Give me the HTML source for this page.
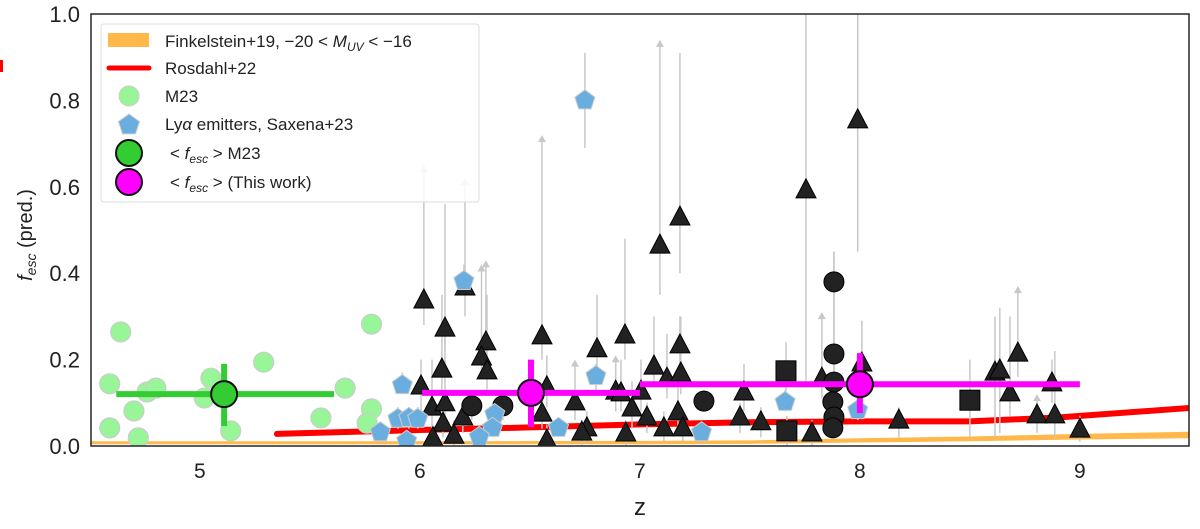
<!DOCTYPE html>
<html><head><meta charset="utf-8"><style>
body{margin:0;background:#fff;}
svg{display:block;font-family:"Liberation Sans","DejaVu Sans",sans-serif;}
</style></head><body>
<svg id="chart" width="1200" height="529">
<defs><clipPath id="clip"><rect x="91" y="14" width="1098" height="432"/></clipPath></defs>
<g id="plot" clip-path="url(#clip)"></g>
<rect x="91" y="14" width="1098" height="432" fill="none" stroke="#262626" stroke-width="1.5"/>
<g id="ticks"></g>
<text x="640" y="515" font-size="24" text-anchor="middle" fill="#222">z</text>
<text transform="translate(32,235) rotate(-90)" font-size="20" text-anchor="middle" fill="#222"><tspan font-style="italic">f</tspan><tspan font-style="italic" font-size="14" dy="4">esc</tspan><tspan dy="-4"> (pred.)</tspan></text>
<rect x="0" y="60" width="3" height="12" fill="#f00"/>
<g id="legend">
<rect x="101" y="24" width="378" height="178" rx="3" fill="#fff" fill-opacity="0.85" stroke="#ddd"/>
<g><rect x="108" y="33" width="41" height="14" fill="#ffb84a"/><text x="165" y="47" font-size="17" fill="#222">Finkelstein+19, −20 &lt; <tspan font-style="italic">M</tspan><tspan font-style="italic" font-size="12" dy="4">UV</tspan><tspan dy="-4"> &lt; −16</tspan></text></g>
<g><line x1="109" y1="68" x2="149" y2="68" stroke="#f00" stroke-width="5" stroke-linecap="round"/><text x="165" y="74" font-size="17" fill="#222">Rosdahl+22</text></g>
<g><circle cx="129" cy="96" r="10" fill="#98f598" stroke="#ccc"/><text x="165" y="102" font-size="17" fill="#222">M23</text></g>
<g><polygon id="legpent" fill="#6aaee0" stroke="#ccc"/><text x="165" y="130" font-size="17" fill="#222">Ly<tspan font-style="italic">α</tspan> emitters, Saxena+23</text></g>
<g><circle cx="129" cy="153" r="13" fill="#33cc33" stroke="#111" stroke-width="2"/><text x="170" y="159" font-size="17" fill="#222">&lt; <tspan font-style="italic">f</tspan><tspan font-style="italic" font-size="12" dy="4">esc</tspan><tspan dy="-4"> &gt;  M23</tspan></text></g>
<g><circle cx="129" cy="182" r="13" fill="#ff00ff" stroke="#111" stroke-width="2"/><text x="170" y="188" font-size="17" fill="#222">&lt; <tspan font-style="italic">f</tspan><tspan font-style="italic" font-size="12" dy="4">esc</tspan><tspan dy="-4"> &gt;  (This work)</tspan></text></g>
</g>
</svg>
<script>
const xTicks=[5,6,7,8,9];
const yTicks=[0.0,0.2,0.4,0.6,0.8,1.0];
const yTickLabels=["0.0","0.2","0.4","0.6","0.8","1.0"];
const finkZ=[4.4,5,6,7,7.5,8,8.5,9,9.5];
const finkLo=[0.004,0.004,0.004,0.004,0.005,0.008,0.011,0.015,0.018];
const finkHi=[0.011,0.011,0.011,0.012,0.013,0.018,0.022,0.028,0.033];
const rosZ=[5.35,6,6.5,7,7.5,8,8.5,8.9,9.5];
const rosF=[0.028,0.037,0.043,0.05,0.055,0.057,0.057,0.066,0.088];
const m23Z=[4.59,4.64,4.59,4.70,4.72,4.76,4.80,5.02,5.05,5.14,5.29,5.55,5.66,5.78,5.78,5.76];
const m23F=[0.144,0.264,0.042,0.081,0.019,0.125,0.134,0.111,0.157,0.035,0.194,0.065,0.134,0.282,0.086,0.053];
const laeZ=[5.92,5.90,5.95,5.99,5.82,5.94,6.20,6.34,6.33,6.27,6.63,6.80,7.28,7.66,7.99,6.75];
const laeF=[0.141,0.063,0.065,0.063,0.032,0.012,0.382,0.074,0.042,0.021,0.042,0.162,0.032,0.102,0.083,0.80];
const laeHi=[0.17,0.09,0.09,0.09,0.05,0.03,0.42,0.10,0.07,0.04,0.06,0.19,0.05,0.13,0.10,0.91];
const laeLo=[0.12,0.04,0.04,0.04,0.02,0.00,0.35,0.05,0.02,0.00,0.02,0.13,0.01,0.08,0.06,0.69];
const triZ=[6.018,6.114,6.10,6.005,6.055,6.114,6.105,6.059,6.195,6.155,6.205,6.30,6.28,6.305,6.555,6.577,6.555,6.577,6.705,6.759,6.736,6.805,6.932,6.89,6.914,6.964,7.005,7.032,6.936,7.064,7.123,7.186,7.182,7.182,7.091,7.173,7.109,7.195,7.473,7.455,7.55,7.755,7.99,7.827,7.782,8.009,8.177,8.614,8.636,8.682,8.718,8.805,8.886,8.873,9.0];
const triF=[0.338,0.273,0.178,0.139,0.090,0.100,0.053,0.019,0.067,0.025,0.368,0.241,0.206,0.174,0.255,0.137,0.076,0.014,0.102,0.042,0.032,0.225,0.257,0.127,0.123,0.088,0.127,0.067,0.030,0.185,0.157,0.169,0.234,0.530,0.465,0.079,0.042,0.042,0.125,0.067,0.056,0.593,0.755,0.157,0.030,0.192,0.060,0.171,0.176,0.123,0.215,0.072,0.072,0.146,0.039];
const triHi=[0.65,0.56,0.35,0.2,0.2,0.3,0.1,0.05,0.1,0.06,0.62,0.43,0.42,0.35,0.72,0.21,0.12,0.05,0.2,0.08,0.06,0.35,0.48,0.21,0.2,0.15,0.2,0.1,0.06,0.3,0.26,0.3,0.3,0.91,0.94,0.16,0.08,0.08,0.19,0.1,0.09,1.05,1.05,0.31,0.06,0.29,0.09,0.3,0.32,0.3,0.37,0.12,0.22,0.2,0.07];
const triLo=[0.28,0.22,0.12,0.08,0.04,0.05,0.02,0.0,0.03,0.0,0.30,0.19,0.16,0.13,0.20,0.09,0.04,0.0,0.06,0.01,0.0,0.17,0.2,0.08,0.08,0.04,0.08,0.03,0.0,0.14,0.11,0.12,0.18,0.40,0.35,0.04,0.01,0.01,0.08,0.03,0.02,0.15,0.45,0.11,0.0,0.14,0.02,0.02,0.03,0.07,0.16,0.03,0.02,0.1,0.01];
const triArrow=[1,0,0,0,0,0,0,0,0,0,1,1,1,0,1,0,0,0,1,0,0,0,0,1,0,0,0,0,0,0,0,0,0,0,1,0,0,0,0,0,0,0,0,1,0,0,0,0,0,0,1,1,0,0,0];
const cirZ=[6.236,6.377,7.291,7.882,7.882,7.882,7.877,7.882,7.877];
const cirF=[0.093,0.093,0.104,0.380,0.213,0.148,0.102,0.067,0.042];
const cirHi=[0.12,0.12,0.13,0.45,0.45,0.2,0.13,0.09,0.07];
const cirLo=[0.06,0.06,0.08,0.2,0.15,0.1,0.07,0.04,0.02];
const sqZ=[7.664,7.668,8.5];
const sqF=[0.174,0.035,0.106];
const sqHi=[0.24,0.07,0.2];
const sqLo=[0.12,0.0,0.02];
const meanM23Z=[5.11],meanM23F=[0.12],meanM23ZLo=[4.62],meanM23ZHi=[5.61],meanM23FLo=[0.046],meanM23FHi=[0.19];
const meanZ=[6.505,8.0],meanF=[0.123,0.143],meanZLo=[6.01,7.0],meanZHi=[7.0,9.0],meanFLo=[0.044,0.076],meanFHi=[0.2,0.215];

const X=z=>91+(z-4.505)*220;
const Y=f=>446-f*432;
const NS="http://www.w3.org/2000/svg";
const plot=document.getElementById('plot');
function mk(tag,attrs,parent){const e=document.createElementNS(NS,tag);for(const k in attrs)e.setAttribute(k,attrs[k]);(parent||plot).appendChild(e);return e;}
function pent(cx,cy,r){let p=[];for(let i=0;i<5;i++){const a=-Math.PI/2+i*2*Math.PI/5;p.push((cx+r*Math.cos(a)).toFixed(1)+","+(cy+r*Math.sin(a)).toFixed(1));}return p.join(" ");}
document.getElementById('legpent').setAttribute('points',pent(129,125,11));

const tickG=document.getElementById('ticks');
xTicks.forEach(t=>{const e=mk('text',{x:X(t),y:478,'font-size':21,'text-anchor':'middle',fill:'#222'},tickG);e.textContent=t;

});
yTicks.forEach((t,i)=>{const e=mk('text',{x:80,y:Y(t)+8,'font-size':22,'text-anchor':'end',fill:'#222'},tickG);e.textContent=yTickLabels[i];

});

const bandTop=finkZ.map((z,i)=>X(z)+","+Y(finkHi[i])).join(" ");
const bandBot=finkZ.slice().reverse().map((z,j)=>X(z)+","+Y(finkLo[finkZ.length-1-j])).join(" ");
const band=mk('polygon',{points:bandTop+" "+bandBot,fill:'#ffb84a'});


const rl=mk('polyline',{points:rosZ.map((z,i)=>X(z)+","+Y(rosF[i])).join(" "),fill:'none',stroke:'#f00','stroke-width':6,'stroke-linecap':'round'});



function errbar(z,lo,hi,arrow){
  const l=mk('line',{x1:X(z),x2:X(z),y1:Y(lo),y2:Y(hi)+(arrow?6:0),stroke:'#c8c8c8','stroke-width':1.5});
  
  
  if(arrow){const a=mk('polygon',{points:`${X(z)-4},${Y(hi)+7} ${X(z)+4},${Y(hi)+7} ${X(z)},${Y(hi)}`,fill:'#c8c8c8'});
  
  }
}
m23Z.forEach((z,i)=>{const c=mk('circle',{cx:X(z),cy:Y(m23F[i]),r:10,fill:'#98f598',stroke:'#ccc','stroke-width':1.2});

});
triZ.forEach((z,i)=>errbar(z,triLo[i],triHi[i],triArrow[i]));
cirZ.forEach((z,i)=>errbar(z,cirLo[i],cirHi[i],0));
sqZ.forEach((z,i)=>errbar(z,sqLo[i],sqHi[i],0));
laeZ.forEach((z,i)=>errbar(z,laeLo[i],laeHi[i],0));
triZ.forEach((z,i)=>{const x=X(z),y=Y(triF[i]);const t=mk('polygon',{points:`${x-10},${y+8} ${x+10},${y+8} ${x},${y-11}`,fill:'#222',stroke:'#000','stroke-width':1});

});
cirZ.forEach((z,i)=>{const c=mk('circle',{cx:X(z),cy:Y(cirF[i]),r:10,fill:'#222',stroke:'#000'});

});
sqZ.forEach((z,i)=>{const r=mk('rect',{x:X(z)-10,y:Y(sqF[i])-10,width:20,height:20,fill:'#222',stroke:'#000'});

});
laeZ.forEach((z,i)=>{const p=mk('polygon',{points:pent(X(z),Y(laeF[i]),10.5),fill:'#6aaee0',stroke:'#ccc','stroke-width':1});

});
function meanMark(z,f,zl,zh,fl,fh,col,name){
  const h=mk('line',{x1:X(zl),x2:X(zh),y1:Y(f),y2:Y(f),stroke:col,'stroke-width':6});
  
  
  const v=mk('line',{x1:X(z),x2:X(z),y1:Y(fl),y2:Y(fh),stroke:col,'stroke-width':6});
  
  
  const c=mk('circle',{cx:X(z),cy:Y(f),r:13,fill:col,stroke:'#111','stroke-width':2});
  
  
}
meanM23Z.forEach((z,i)=>meanMark(z,meanM23F[i],meanM23ZLo[i],meanM23ZHi[i],meanM23FLo[i],meanM23FHi[i],'#33cc33','mean-m23'));
meanZ.forEach((z,i)=>meanMark(z,meanF[i],meanZLo[i],meanZHi[i],meanFLo[i],meanFHi[i],'#ff00ff','mean-this-work'));
</script>
</body></html>
